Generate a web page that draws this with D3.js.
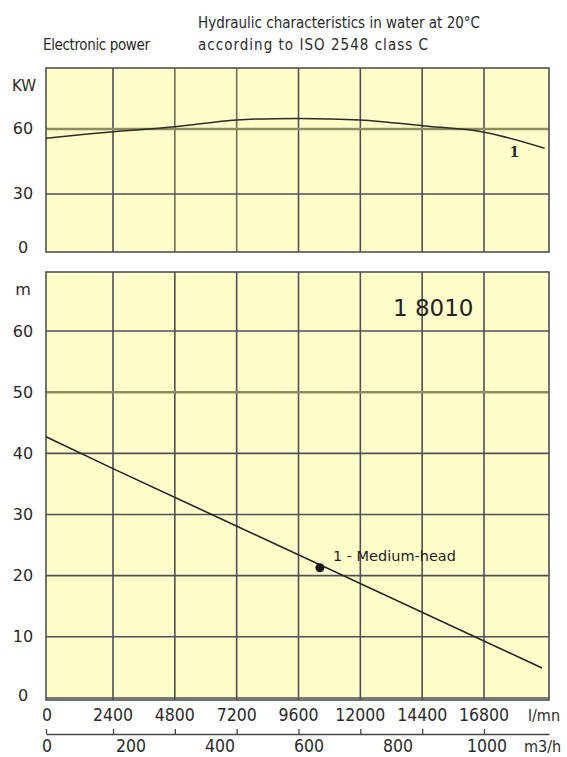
<!DOCTYPE html>
<html><head><meta charset="utf-8">
<script src="https://cdn.jsdelivr.net/npm/d3@7"></script>
<style>body{margin:0;background:#fff}svg{display:block}</style>
</head><body><svg id="c" width="567" height="757"></svg>
<script>
// ---- data ----
const flowTicks = [0, 2400, 4800, 7200, 9600, 12000, 14400, 16800];   // l/mn
const m3hTicks = [0, 200, 400, 600, 800, 1000];                       // m3/h
const kwTicks = [0, 30, 60];
const headTicks = [0, 10, 20, 30, 40, 50, 60];
const powerFlow = [0, 2400, 4800, 7200, 9600, 12000, 14400, 16800, 19150];
const powerKw   = [55.7, 58.75, 61.05, 64.15, 64.9, 64.15, 61.5, 58.5, 51.1];
const headFlow  = [0, 2400, 19050];
const headM     = [42.7, 37.5, 4.9];
const dutyFlow = [10430];
const dutyHead = [21.3];
const curveName = "1 - Medium-head";
const modelName = "1 8010";

// ---- layout ----
const L = 46, R = 549;
const topP = {y0: 68, y1: 252};
const botP = {y0: 272, y1: 700};
const gridCol = "#4f4f58", olive = "#8d8d62", bg = "#fffecb", txt = "#2a2a2a";
const numFont = "'DejaVu Sans', sans-serif";
const cond = "'DejaVu Sans Condensed', 'DejaVu Sans', sans-serif";

const svg = d3.select("#c");
const x = d3.scaleLinear().domain([0, 2400, 16800, 19320]).range([L, 113, 484, R]);
const xm = d3.scaleLinear().domain([0, 200, 1000]).range([47, 131, 487]);
const yK = d3.scaleLinear().domain([3.23, 88.15]).range([topP.y1, topP.y0]).clamp(true);
const yH = d3.scaleLinear().domain([-0.33, 69.65]).range([botP.y1, botP.y0]);

function title(t, x0, y0, w) {
  svg.append("text").attr("x", x0).attr("y", y0).attr("font-family", cond).attr("font-size", 15)
    .attr("fill", txt).attr("textLength", w).attr("lengthAdjust", "spacing").text(t);
}
title("Hydraulic characteristics in water at 20°C", 198, 28, 282);
title("according to ISO 2548 class C", 198, 50, 230);
title("Electronic power", 43, 50, 107);

function panel(p, yS, ticks, oliveH, oliveV) {
  const g = svg.append("g");
  g.append("rect").attr("x", L).attr("y", p.y0).attr("width", R - L).attr("height", p.y1 - p.y0).attr("fill", bg);
  g.selectAll(".v").data(flowTicks.slice(1)).join("line")
    .attr("x1", d => x(d)).attr("x2", d => x(d)).attr("y1", p.y0).attr("y2", p.y1)
    .attr("stroke", d => oliveV.includes(d) ? "#6e6e58" : gridCol).attr("stroke-width", 1.6);
  g.selectAll(".h").data(ticks.filter(t => yS(t) > p.y0 + 2 && yS(t) < p.y1 - 2)).join("line")
    .attr("x1", L).attr("x2", R).attr("y1", d => yS(d)).attr("y2", d => yS(d))
    .attr("stroke", d => oliveH.includes(d) ? olive : gridCol)
    .attr("stroke-width", d => oliveH.includes(d) ? 2.4 : 1.6);
  g.append("rect").attr("x", L).attr("y", p.y0).attr("width", R - L).attr("height", p.y1 - p.y0)
    .attr("fill", "none").attr("stroke", gridCol).attr("stroke-width", 1.6);
  g.selectAll(".yl").data(ticks).join("text")
    .attr("x", 23).attr("y", d => Math.min(yS(d), p.y1 - 5))
    .attr("text-anchor", "middle").attr("dominant-baseline", "central")
    .attr("font-family", numFont).attr("font-size", 16).attr("fill", txt).text(d => d);
}
panel(topP, yK, kwTicks, [60], [4800, 7200]);
panel(botP, yH, headTicks, [50], []);

svg.append("text").attr("x", 24).attr("y", 86).attr("text-anchor", "middle").attr("dominant-baseline", "central")
  .attr("font-family", numFont).attr("font-size", 15).attr("fill", txt).text("KW");
svg.append("text").attr("x", 23).attr("y", 289).attr("text-anchor", "middle").attr("dominant-baseline", "central")
  .attr("font-family", numFont).attr("font-size", 16).attr("fill", txt).text("m");

// power curve
const pData = powerFlow.map((f, i) => [f, powerKw[i]]);
svg.append("path").datum(pData)
  .attr("d", d3.line().x(d => x(d[0])).y(d => yK(d[1])).curve(d3.curveCatmullRom))
  .attr("fill", "none").attr("stroke", "#2e2a2a").attr("stroke-width", 1.5);
svg.append("text").attr("x", x(powerFlow[powerFlow.length - 1]) - 35).attr("y", yK(powerKw[powerKw.length - 1]) + 9)
  .attr("font-family", "'DejaVu Serif', serif").attr("font-weight", "bold").attr("font-size", 14)
  .attr("fill", txt).text("1");

// head curve
const hData = headFlow.map((f, i) => [f, headM[i]]);
svg.append("path").datum(hData)
  .attr("d", d3.line().x(d => x(d[0])).y(d => yH(d[1])))
  .attr("fill", "none").attr("stroke", "#222").attr("stroke-width", 1.6);
svg.selectAll(".duty").data(dutyFlow).join("circle")
  .attr("cx", d => x(d)).attr("cy", (d, i) => yH(dutyHead[i])).attr("r", 4.5).attr("fill", "#1a1a1a");
svg.append("text").attr("x", x(dutyFlow[0]) + 13).attr("y", yH(dutyHead[0]) - 12)
  .attr("dominant-baseline", "central").attr("font-family", numFont).attr("font-size", 14.5)
  .attr("fill", "#1e1e1e").text(curveName);
svg.append("text").attr("x", 393).attr("y", 308).attr("dominant-baseline", "central")
  .attr("font-family", numFont).attr("font-size", 23).attr("fill", "#222").text(modelName);

// bottom axes
svg.selectAll(".fl").data(flowTicks).join("text")
  .attr("x", d => x(d) + (d === 0 ? 1 : 0)).attr("y", 721).attr("text-anchor", "middle")
  .attr("font-family", cond).attr("font-size", 17.5).attr("fill", txt).text(d => d);
svg.append("text").attr("x", 528).attr("y", 721).attr("font-family", cond).attr("font-size", 16)
  .attr("fill", txt).text("l/mn");
const ax = svg.append("g").attr("transform", "translate(0,734)")
  .call(d3.axisTop(x).tickValues(flowTicks).tickSize(5).tickSizeOuter(0).tickFormat(""));
ax.selectAll("path,line").attr("stroke", "#444").attr("stroke-width", 1.3);
svg.selectAll(".mh").data(m3hTicks).join("text")
  .attr("x", d => xm(d)).attr("y", 752).attr("text-anchor", "middle")
  .attr("font-family", cond).attr("font-size", 17.5).attr("fill", txt).text(d => d);
svg.append("text").attr("x", 524).attr("y", 752).attr("font-family", cond).attr("font-size", 16)
  .attr("fill", txt).text("m3/h");
</script></body></html>
